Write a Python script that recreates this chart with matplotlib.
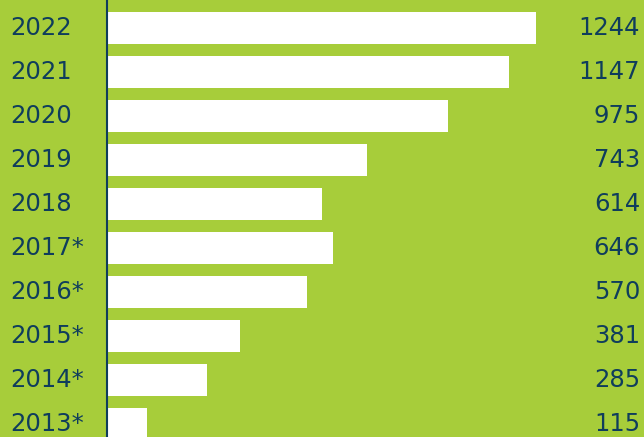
import matplotlib
matplotlib.use("Agg")
import matplotlib.pyplot as plt
from matplotlib.transforms import blended_transform_factory

years = ["2022", "2021", "2020", "2019", "2018", "2017*", "2016*", "2015*", "2014*", "2013*"]
values = [1244, 1147, 975, 743, 614, 646, 570, 381, 285, 115]

bg = "#a7cd3a"
navy = "#0f3d5c"

W, H = 644, 437
fig = plt.figure(figsize=(W / 100, H / 100), dpi=100, facecolor=bg)
left_px, right_px = 107, 536
ax = fig.add_axes([left_px / W, 0, (right_px - left_px) / W, 1])
ax.set_facecolor(bg)
pos = list(range(len(years)))
ax.barh(pos, values, height=32 / 44, color="white", linewidth=0)
ax.set_xlim(0, 1225)
ax.set_ylim((437 - 28) / 44, -28 / 44)
ax.set_xticks([])
ax.set_yticks([])
for s in ["top", "right", "bottom"]:
    ax.spines[s].set_visible(False)
ax.spines["left"].set_color(navy)
ax.spines["left"].set_linewidth(1.5)

tr = blended_transform_factory(fig.transFigure, ax.transData)
for i, (y, v) in enumerate(zip(years, values)):
    ax.text(10 / W, i, y, transform=tr, ha="left", va="center", fontsize=17.5,
            color=navy, clip_on=False)
    ax.text(640 / W, i, str(v), transform=tr, ha="right", va="center", fontsize=17.5,
            color=navy, clip_on=False)

fig.savefig("out.png", dpi=100, facecolor=bg)
